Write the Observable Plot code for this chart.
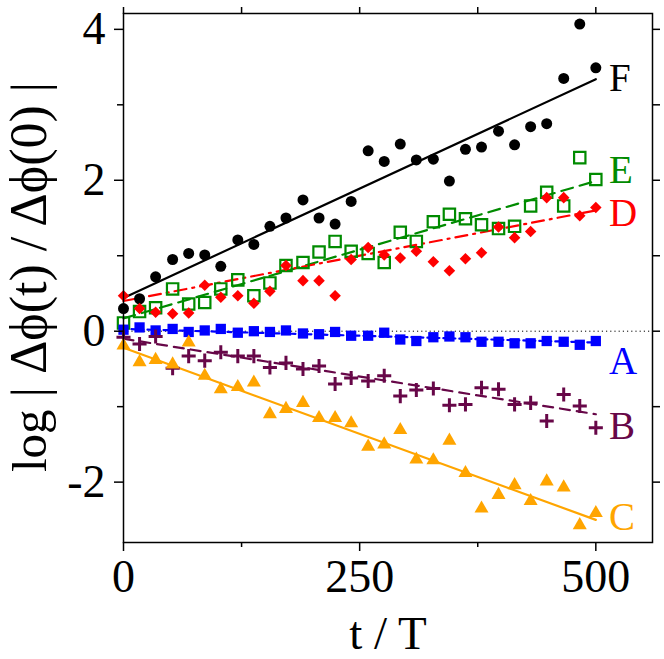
<!DOCTYPE html>
<html><head><meta charset="utf-8">
<script src="https://cdn.jsdelivr.net/npm/d3@7"></script>
<script src="https://cdn.jsdelivr.net/npm/@observablehq/plot@0.6"></script>
<style>
body{margin:0;background:#fff}
svg text, svg tspan { font-family: 'Liberation Serif', 'Times New Roman', serif !important; }
</style>
</head><body><div id="chart"></div>
<script>
// time values (t / T)
const t = [0,17,34,52,69,86,103,121,138,155,172,190,207,224,241,259,276,293,310,328,345,362,379,397,414,431,448,466,483,500];
// series values (log |Δφ(t)/Δφ(0)|)
const seriesA = [0.02,0.05,0.01,0.03,-0.01,0.01,0.03,-0.02,0.00,-0.01,0.01,-0.03,-0.04,-0.01,-0.06,-0.06,-0.02,-0.11,-0.13,-0.08,-0.07,-0.08,-0.14,-0.14,-0.16,-0.16,-0.13,-0.14,-0.18,-0.13];
const seriesB = [-0.08,-0.17,-0.07,-0.49,-0.33,-0.39,-0.28,-0.33,-0.33,-0.48,-0.42,-0.50,-0.46,-0.70,-0.62,-0.66,-0.59,-0.86,-0.78,-0.76,-0.98,-0.97,-0.75,-0.77,-0.97,-0.95,-1.19,-0.84,-0.99,-1.28];
const seriesC = [-0.19,-0.41,-0.38,-0.44,-0.15,-0.59,-0.77,-0.74,-0.68,-1.10,-1.03,-0.95,-1.15,-1.15,-1.22,-1.53,-1.50,-1.31,-1.70,-1.71,-1.45,-1.88,-2.35,-2.17,-2.04,-2.25,-1.99,-2.07,-2.57,-2.41];
const seriesD = [0.47,0.30,0.25,0.23,0.24,0.61,0.45,0.47,0.37,0.53,0.87,0.67,0.67,0.47,0.95,1.11,1.01,0.97,1.06,0.92,0.80,0.96,1.04,1.38,1.24,1.32,1.77,1.77,1.53,1.64];
const seriesE = [0.11,0.26,0.31,0.56,0.36,0.38,0.56,0.68,0.47,0.64,0.87,0.91,1.05,1.19,1.06,1.03,0.91,1.31,1.19,1.45,1.55,1.49,1.41,1.36,1.39,1.66,1.84,1.66,2.30,2.01];
const seriesF = [0.30,0.43,0.72,0.95,1.03,1.01,0.86,1.21,1.15,1.39,1.50,1.74,1.50,1.42,1.72,2.39,2.25,2.48,2.27,2.28,1.99,2.41,2.44,2.65,2.47,2.71,2.75,3.35,4.07,3.49];
// fitted straight lines: value at t=0 and t=500
const fitT = [0, 500];
const fitA = [0.03, -0.15];
const fitB = [-0.10, -1.10];
const fitC = [-0.22, -2.50];
const fitD = [0.40, 1.60];
const fitE = [0.17, 1.99];
const fitF = [0.44, 3.34];
// curve labels
const labelNames = ["F", "E", "D", "A", "B", "C"];
const labelT = [514, 514, 514, 514, 514, 514];
const labelY = [3.35, 2.13, 1.56, -0.40, -1.26, -2.47];
const xTicks = [0, 250, 500];
const xMinor = [125, 375];
const yTicks = [-2, 0, 2, 4];
const yMinor = [-1, 1, 3];

const serif = "'Liberation Serif', 'Times New Roman', serif";
const colors = {A: "#0000ff", B: "#670748", C: "#ffa500", D: "#ff0000", E: "#008b00", F: "#000000"};
const pts = ys => t.map((x, i) => ({x, y: ys[i]}));
const fit = ys => fitT.map((x, i) => ({x, y: ys[i]}));
const labels = labelNames.map((n, i) => ({x: labelT[i], y: labelY[i], n}));

const chart = Plot.plot({
  width: 664, height: 659,
  marginLeft: 123, marginRight: 12, marginTop: 13, marginBottom: 117,
  x: {domain: [0, 560]},
  y: {domain: [-2.80, 4.21]},
  style: {fontFamily: serif, fontSize: "46px", background: "white"},
  marks: [
    Plot.ruleY([0], {stroke: "black", strokeWidth: 1, strokeDasharray: "1.2,3"}),
    Plot.line(fit(fitF), {x: "x", y: "y", stroke: colors.F, strokeWidth: 2.2}),
    Plot.line(fit(fitE), {x: "x", y: "y", stroke: colors.E, strokeWidth: 2.2, strokeDasharray: "12,7"}),
    Plot.line(fit(fitD), {x: "x", y: "y", stroke: colors.D, strokeWidth: 2.2, strokeDasharray: "12,6,2,6"}),
    Plot.line(fit(fitA), {x: "x", y: "y", stroke: colors.A, strokeWidth: 2.2, strokeDasharray: "4,4"}),
    Plot.line(fit(fitB), {x: "x", y: "y", stroke: colors.B, strokeWidth: 2.2, strokeDasharray: "10,7"}),
    Plot.line(fit(fitC), {x: "x", y: "y", stroke: colors.C, strokeWidth: 2.2}),
    Plot.dot(pts(seriesF), {x: "x", y: "y", symbol: "circle", r: 5.5, fill: colors.F}),
    Plot.dot(pts(seriesE), {x: "x", y: "y", symbol: "square", r: 6.4, fill: "none", stroke: colors.E, strokeWidth: 2.2}),
    Plot.dot(pts(seriesD), {x: "x", y: "y", symbol: "diamond2", r: 5.2, fill: colors.D, stroke: "none"}),
    Plot.dot(pts(seriesA), {x: "x", y: "y", symbol: "square", r: 5.8, fill: colors.A, stroke: "none"}),
    Plot.dot(pts(seriesB), {x: "x", y: "y", symbol: "plus", r: 4.6, stroke: colors.B, strokeWidth: 3}),
    Plot.dot(pts(seriesC), {x: "x", y: "y", symbol: "triangle", r: 5.2, fill: colors.C, stroke: "none"}),
    Plot.text(labels, {x: "x", y: "y", text: "n", fill: d => colors[d.n], fontSize: 39, fontFamily: serif, textAnchor: "start", lineAnchor: "middle"}),
    Plot.frame({stroke: "black", strokeWidth: 1.5}),
    Plot.axisX({anchor: "bottom", ticks: xTicks, tickSize: 9, tickPadding: 8, strokeWidth: 1.5, fontSize: 46, fontFamily: serif, label: null}),
    Plot.axisX({anchor: "bottom", ticks: xMinor, tickSize: 5, strokeWidth: 1.5, tickFormat: () => "", label: null}),
    Plot.axisX({anchor: "top", ticks: [...xTicks, ...xMinor], tickSize: 7, strokeWidth: 1.5, tickFormat: () => "", label: null}),
    Plot.axisY({anchor: "left", ticks: yTicks, tickSize: 9, tickPadding: 9, strokeWidth: 1.5, fontSize: 46, fontFamily: serif, label: null, tickFormat: d => (d < 0 ? "-" + Math.abs(d) : String(d))}),
    Plot.axisY({anchor: "left", ticks: yMinor, tickSize: 6, strokeWidth: 1.5, tickFormat: () => "", label: null}),
    Plot.axisY({anchor: "right", ticks: [...yTicks, ...yMinor], tickSize: 7, strokeWidth: 1.5, tickFormat: () => "", label: null}),
    Plot.text(["t / T"], {frameAnchor: "bottom", dy: 106, lineAnchor: "bottom", fontSize: 47, fontFamily: serif, fill: "black"}),
    Plot.text(["YLABEL"], {frameAnchor: "left", rotate: -90, dx: -78, dy: 194, lineAnchor: "bottom", textAnchor: "start", fontSize: 49, fontFamily: serif, fill: "black"})
  ]
});
document.getElementById("chart").appendChild(chart);

// y-axis title with taller bars
d3.select(chart).selectAll("text").filter(function () { return this.textContent === "YLABEL"; }).each(function () {
  const el = d3.select(this);
  el.text(null);
  const parts = [["log ", null], ["|", 50], [" Δϕ(t) / Δϕ(0) ", 52], ["|", 50]];
  for (const [s, fs] of parts) {
    const ts = el.append("tspan").text(s);
    if (fs) ts.attr("font-size", fs);
  }
});
</script>
</body></html>
